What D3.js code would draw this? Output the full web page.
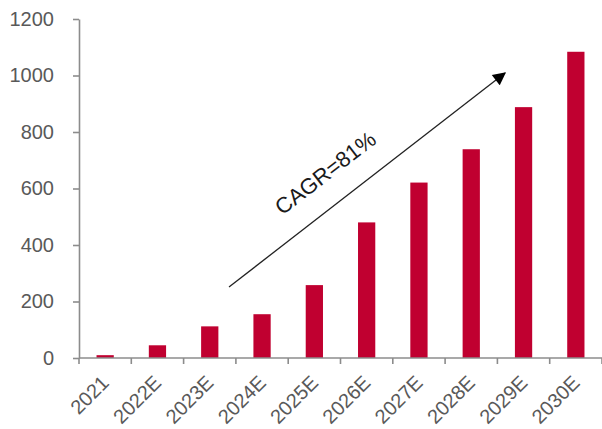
<!DOCTYPE html>
<html>
<head>
<meta charset="utf-8">
<script src="https://cdn.jsdelivr.net/npm/d3@7"></script>
<style>
  body { margin: 0; background: #fff; }
  .axis text { font-family: "Liberation Sans", Arial, sans-serif; font-size: 20px; fill: #595959; }
  .axis path, .axis line { stroke: #8c8c8c; stroke-width: 1.6; }
</style>
</head>
<body>
<script>
// data
var years = ["2021", "2022E", "2023E", "2024E", "2025E", "2026E", "2027E", "2028E", "2029E", "2030E"];
var values = [10, 45, 112, 155, 258, 480, 621, 739, 888, 1084];
var yTicks = [0, 200, 400, 600, 800, 1000, 1200];

var width = 602,
	height = 429;

var margin = {left: 79, right: 0, top: 19, bottom: 71};

var svg = d3.select("body").append("svg")
	.attr("width", width)
	.attr("height", height);

var x = d3.scaleBand()
	.domain(years)
	.range([margin.left, 602])
	.paddingInner(0.67)
	.paddingOuter(0.335);

var y = d3.scaleLinear()
	.domain([0, 1200])
	.range([height - margin.bottom, margin.top]);

// bars
svg.selectAll(".bar")
	.data(values)
	.enter().append("rect")
	.attr("class", "bar")
	.attr("x", function(d, i) { return x(years[i]); })
	.attr("width", x.bandwidth())
	.attr("y", function(d) { return y(d); })
	.attr("height", function(d) { return y(0) - y(d); })
	.style("fill", "#c00030");

// y axis
var yAxis = d3.axisLeft(y)
	.tickValues(yTicks)
	.tickFormat(d3.format("d"))
	.tickSize(6)
	.tickPadding(19)
	.tickSizeOuter(0);

svg.append("g")
	.attr("class", "axis")
	.attr("transform", "translate(" + margin.left + ",0)")
	.call(yAxis);

// x axis, ticks between categories
var xb = d3.scaleLinear().domain([0, years.length]).range([margin.left, 602]);

var xg = svg.append("g")
	.attr("class", "axis")
	.attr("transform", "translate(0," + y(0) + ")");

xg.append("line")
	.attr("x1", margin.left).attr("x2", 602)
	.attr("y1", 0).attr("y2", 0);

xg.selectAll(".tk")
	.data(d3.range(years.length + 1))
	.enter().append("line")
	.attr("x1", function(d) { return xb(d); })
	.attr("x2", function(d) { return xb(d); })
	.attr("y1", 0).attr("y2", 6);

xg.selectAll(".lbl")
	.data(years)
	.enter().append("text")
	.attr("text-anchor", "end")
	.attr("transform", function(d) {
		return "translate(" + (x(d) + x.bandwidth() / 2 - 5) + ",16) rotate(-45)";
	})
	.attr("dy", "0.71em")
	.text(function(d) { return d; });

// CAGR arrow
svg.append("defs").append("marker")
	.attr("id", "head")
	.attr("viewBox", "0 0 10 10")
	.attr("refX", 9).attr("refY", 5)
	.attr("markerWidth", 15).attr("markerHeight", 13)
	.attr("markerUnits", "userSpaceOnUse")
	.attr("orient", "auto")
	.append("path")
	.attr("d", "M0,0L10,5L0,10z")
	.style("fill", "#000");

svg.append("line")
	.attr("x1", 229).attr("y1", 287)
	.attr("x2", 505).attr("y2", 73)
	.style("stroke", "#222")
	.style("stroke-width", 1.3)
	.attr("marker-end", "url(#head)");

svg.append("text")
	.attr("transform", "translate(330,179) rotate(-37.7)")
	.attr("text-anchor", "middle")
	.style("font-family", "Liberation Sans, Arial, sans-serif")
	.style("font-size", "22px")
	.style("fill", "#1a1a1a")
	.text("CAGR=81%");
</script>
</body>
</html>
